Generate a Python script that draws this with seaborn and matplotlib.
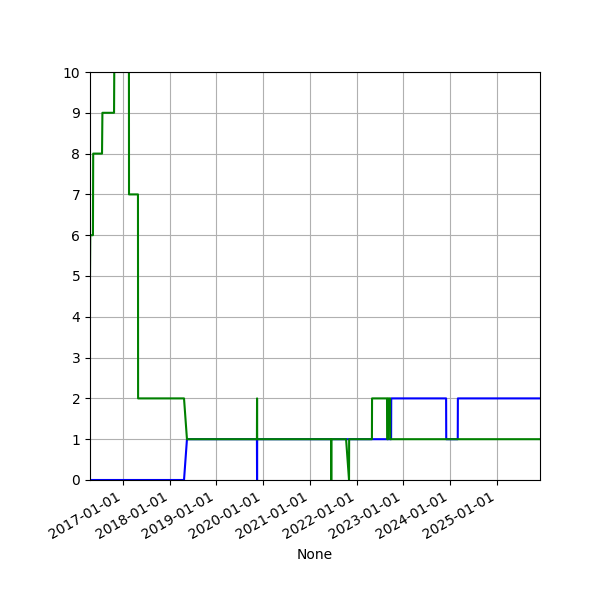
import matplotlib
matplotlib.use("Agg")
import matplotlib.pyplot as plt
import matplotlib.dates as mdates
import seaborn as sns
import pandas as pd

green_dates = ["2016-04-18","2016-04-20","2016-05-11","2016-05-13","2016-07-21","2016-07-24",
               "2016-10-23","2016-10-28","2017-02-16","2017-02-17","2017-04-28","2017-04-29",
               "2018-04-23","2018-05-16","2019-11-14","2019-11-15","2019-11-16","2021-06-16",
               "2021-06-17","2021-06-18","2021-10-11","2021-11-03","2021-11-04","2022-05-01",
               "2022-05-02","2022-08-27","2022-08-28","2022-09-04","2022-09-05","2022-09-20",
               "2022-09-21","2025-12-05"]
green_vals = [5,6,6,8,8,9,9,12,12,7,7,2,2,1,1,2,1,1,0,1,1,0,1,1,2,2,1,1,2,2,1,1]

blue_dates = ["2016-04-18","2018-04-23","2018-05-16","2019-11-14","2019-11-15","2019-11-16",
              "2022-09-28","2022-09-29","2023-12-02","2023-12-03","2024-03-02","2024-03-03",
              "2025-12-05"]
blue_vals = [0,0,1,1,0,1,1,2,2,1,1,2,2]

fig, ax = plt.subplots(figsize=(6, 6), dpi=100)
fig.subplots_adjust(left=0.15, right=0.9, top=0.88, bottom=0.2)
sns.lineplot(x=pd.to_datetime(blue_dates), y=blue_vals, color="blue", ax=ax,
             estimator=None, sort=False)
sns.lineplot(x=pd.to_datetime(green_dates), y=green_vals, color="green", ax=ax,
             estimator=None, sort=False)
ax.set_ylim(0, 10)
ax.set_yticks(range(0, 11))
ax.set_xlim(pd.Timestamp("2016-04-18"), pd.Timestamp("2025-12-05"))
ax.xaxis.set_major_locator(mdates.YearLocator(1, month=1, day=1))
ax.xaxis.set_major_formatter(mdates.DateFormatter("%Y-%m-%d"))
ax.grid(True, color="#b0b0b0")
fig.autofmt_xdate()
fig.savefig("out.png", dpi=100)
